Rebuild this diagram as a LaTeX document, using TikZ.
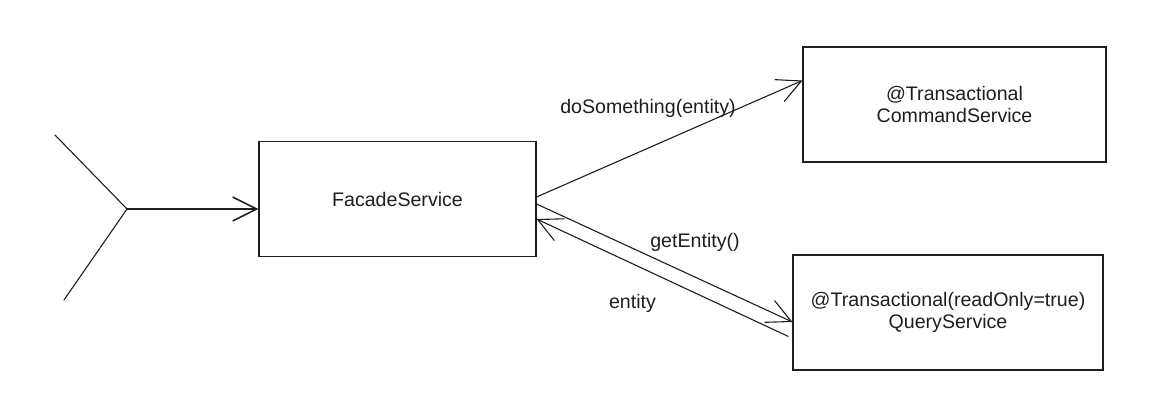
\documentclass[tikz,border=0pt]{standalone}
\usepackage{fontspec}
\setmainfont{Liberation Sans}
\usepackage{xcolor}
\usetikzlibrary{arrows.meta}
\definecolor{ink}{HTML}{1E1E1E}
\tikzset{
  svc/.style={draw=ink,line width=1.1pt,minimum width=#1,minimum height=115pt,
    align=center,inner sep=0pt},
  link/.style={draw=ink,line width=1.1pt,
    -{Straight Barb[length=24pt,width=24pt]}},
  stroke/.style={draw=ink,line width=1.1pt,line cap=round}
}

\begin{document}
\begin{tikzpicture}[x=1pt,y=-1pt,font=\fontsize{19.6}{22}\selectfont,text=ink]
  \useasboundingbox (0,0) rectangle (1159,420);
  % services
  \node[svc=277pt] (facade) at (397.5,199) {FacadeService};
  \node[svc=303pt] (command) at (954.5,104.5) {@Transactional\\CommandService};
  \node[svc=310pt] (query) at (948,312.5) {@Transactional(readOnly=true)\\QueryService};
  % caller fork
  \coordinate (forkTop) at (55,135);
  \coordinate (forkBot) at (64,300);
  \coordinate (forkJoin) at (127,209);
  \draw[stroke] (forkTop) -- (forkJoin) -- (forkBot);
  \draw[link,line width=1.6pt] (forkJoin) -- (forkJoin -| facade.west);
  % calls
  \draw[link] ([yshift=2pt]facade.east) -- ([yshift=24pt]command.west);
  \draw[link] ([yshift=-5pt]facade.east) -- ([yshift=-9.5pt]query.west);
  \draw[link] ([yshift=-24pt,xshift=-4pt]query.west) -- ([yshift=-20pt]facade.east);
  \node (doLbl) at (648,108) {doSomething(entity)};
  \node (getLbl) at (695,242) {getEntity()};
  \node (entLbl) at (632.5,303) {entity};
\end{tikzpicture}
\end{document}
